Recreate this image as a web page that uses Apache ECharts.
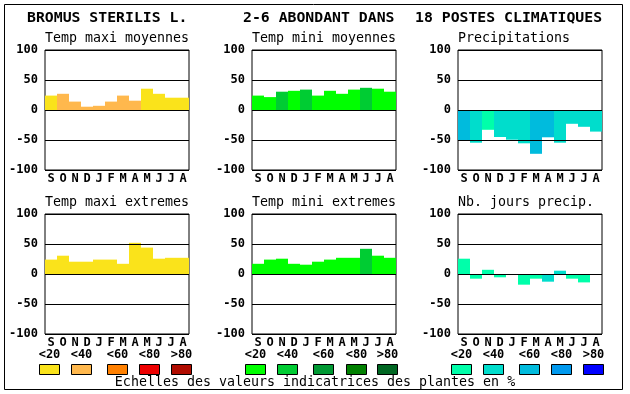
<!DOCTYPE html>
<html><head><meta charset="utf-8">
<script src="https://cdn.jsdelivr.net/npm/echarts@6/dist/echarts.min.js"></script>
<style>html,body{margin:0;padding:0;background:#fff}#c{width:630px;height:394px}</style>
</head><body><div id="c"></div>
<script>
var months = ['S','O','N','D','J','F','M','A','M','J','J','A'];
var yTicks = [-100, -50, 0, 50, 100];
var classLabels = ['<20','<40','<60','<80','>80'];

var warmColors = ['#FAE31B','#FFB84D','#FF8000','#EE0000','#B00C00'];
var greenColors = ['#00FF00','#00CC33','#009933','#008000','#006622'];
var blueColors = ['#00FFAA','#00DDCC','#00BBDD','#0099EE','#0000FF'];

var tmaxMoy = [24, 27, 14, 5.5, 7, 14, 24, 15.5, 35.5, 27, 20.5, 20.5];
var tmaxMoyCls = [0, 1, 1, 1, 1, 1, 1, 1, 0, 0, 0, 0];
var tminMoy = [24, 21.5, 30.5, 32, 34, 24, 32, 27, 34, 37, 35.5, 30.5];
var tminMoyCls = [0, 0, 1, 0, 1, 0, 0, 0, 0, 1, 0, 0];
var precip = [-50, -54.5, -33, -45, -49.5, -55.5, -73, -45.5, -54.5, -23, -28, -36];
var precipCls = [2, 1, 0, 1, 1, 1, 2, 2, 1, 1, 1, 1];
var tmaxExt = [24, 30.5, 20.5, 20.5, 24, 24, 17, 52, 44, 25.5, 27, 27];
var tmaxExtCls = [0, 0, 0, 0, 0, 0, 0, 0, 0, 0, 0, 0];
var tminExt = [17, 24, 25.5, 17, 15.5, 20.5, 24, 27, 27, 42, 30.5, 27];
var tminExtCls = [0, 0, 0, 0, 0, 0, 0, 0, 0, 1, 0, 0];
var nbJours = [25.5, -7.8, 7, -5.5, 0, -17.8, -7.8, -12.8, 5.5, -7.8, -14, 0];
var nbJoursCls = [0, 0, 0, 0, 0, 0, 0, 1, 1, 0, 0, 0];

var titles = ['BROMUS STERILIS L.', '2-6 ABONDANT DANS', '18 POSTES CLIMATIQUES'];
var panelTitles = ['Temp maxi moyennes','Temp mini moyennes','Precipitations','Temp maxi extremes','Temp mini extremes','Nb. jours precip.'];
var footer = 'Echelles des valeurs indicatrices des plantes en %';

var panels = [
  {v: tmaxMoy, c: tmaxMoyCls, pal: warmColors},
  {v: tminMoy, c: tminMoyCls, pal: greenColors},
  {v: precip, c: precipCls, pal: blueColors},
  {v: tmaxExt, c: tmaxExtCls, pal: warmColors},
  {v: tminExt, c: tminExtCls, pal: greenColors},
  {v: nbJours, c: nbJoursCls, pal: blueColors}
];

var colX = [45, 252, 458];
var rowY = [50, 214];
var PW = 144, PH = 120;
var MONO = 'DejaVu Sans Mono';

var grids = [], xAxes = [], yAxes = [], series = [], graphics = [];
panels.forEach(function(p, i){
  var col = i % 3, row = Math.floor(i / 3);
  grids.push({left: colX[col], top: rowY[row], width: PW, height: PH, show: true,
    borderColor: '#000', borderWidth: 1, backgroundColor: '#fff'});
  xAxes.push({type: 'category', gridIndex: i, data: months,
    axisLine: {show: false}, axisTick: {show: false},
    axisLabel: {interval: 0, margin: 3, color: '#000', fontFamily: MONO, fontWeight: 'bold', fontSize: 12}});
  yAxes.push({type: 'value', gridIndex: i, min: yTicks[0], max: yTicks[yTicks.length-1], interval: 50, z: 5,
    axisLine: {show: false}, axisTick: {show: false},
    splitLine: {show: true, lineStyle: {color: '#000', width: 1}},
    axisLabel: {margin: 7, color: '#000', fontFamily: MONO, fontWeight: 'bold', fontSize: 12}});
  series.push({type: 'bar', xAxisIndex: i, yAxisIndex: i, barCategoryGap: '0%', animation: false,
    data: p.v.map(function(val, k){ return {value: val, itemStyle: {color: p.pal[p.c[k]]}}; })});
  graphics.push({type: 'text', left: colX[col], top: rowY[row] - 18,
    style: {text: panelTitles[i], font: '13.3px "' + MONO + '"', fill: '#000'}});
});

// main titles
var titleX = [27, 243, 415];
titles.forEach(function(t, i){
  graphics.push({type: 'text', left: titleX[i], top: 11,
    style: {text: t, font: 'bold 14.8px "' + MONO + '"', fill: '#000'}});
});

// legends
[warmColors, greenColors, blueColors].forEach(function(pal, g){
  var boxX = [[39,71,107,139,171],[245,277,313,346,377],[451,483,519,551,583]][g];
  pal.forEach(function(col, k){
    graphics.push({type: 'rect', shape: {x: boxX[k] + 0.5, y: 364.5, width: 20, height: 10},
      style: {fill: col, stroke: '#000', lineWidth: 1}});
    graphics.push({type: 'text', x: boxX[k] + 10.5, y: 355,
      style: {text: classLabels[k], font: 'bold 12px "' + MONO + '"', fill: '#000', align: 'center', verticalAlign: 'middle'}});
  });
});

graphics.push({type: 'text', x: 315, y: 383,
  style: {text: footer, font: '13.3px "' + MONO + '"', fill: '#000', align: 'center', verticalAlign: 'middle'}});
graphics.push({type: 'rect', shape: {x: 4.5, y: 4.5, width: 618, height: 385},
  style: {fill: 'none', stroke: '#000', lineWidth: 1}, z: 100});

var chart = echarts.init(document.getElementById('c'));
chart.setOption({
  animation: false,
  backgroundColor: '#fff',
  grid: grids, xAxis: xAxes, yAxis: yAxes, series: series,
  graphic: {elements: graphics}
});
</script></body></html>
